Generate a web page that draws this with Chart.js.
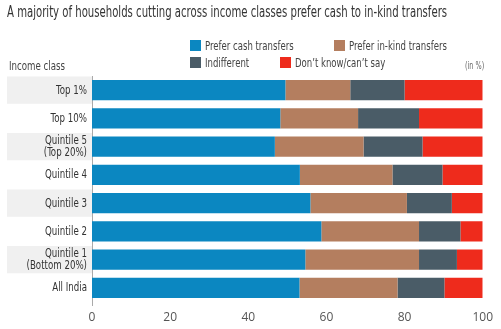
<!DOCTYPE html>
<html>
<head>
<meta charset="utf-8">
<script src="https://cdn.jsdelivr.net/npm/chart.js@4.4.1/dist/chart.umd.min.js"></script>
<style>
  html, body { margin: 0; padding: 0; background: #fff; }
  #wrap { position: relative; width: 501px; height: 329px; overflow: hidden;
    font-family: "DejaVu Sans Condensed", "Liberation Sans Narrow", sans-serif; color: #333; }
  #chart { position: absolute; left: 0; top: 0; }
  .txt { position: absolute; white-space: nowrap; transform-origin: 0 0; }
  #title { left: 7px; top: 3px; font-size: 15px; color: #333; }
  #yname { left: 9px; top: 58px; font-size: 13px; color: #444; transform: scaleX(0.74); }
  #unit { left: 465px; top: 60px; font-size: 10px; color: #666; transform: scaleX(0.72); }
  .leg { position: absolute; font-size: 13px; color: #444; line-height: 14px; white-space: nowrap; }
  .leg i { position: absolute; left: 0; top: 1px; width: 11px; height: 11px; }
  .leg span { position: absolute; left: 15px; top: 0; transform-origin: 0 0; transform: scaleX(0.73); }
</style>
</head>
<body>
<div id="wrap">
  <canvas id="chart" width="501" height="329"></canvas>
  <div class="txt" id="title">A majority of households cutting across income classes prefer cash to in-kind transfers</div>
  <div class="txt" id="yname">Income class</div>
  <div class="txt" id="unit">(in %)</div>
</div>
<script>
const categories = ['Top 1%', 'Top 10%', ['Quintile 5', '(Top 20%)'], 'Quintile 4', 'Quintile 3', 'Quintile 2', ['Quintile 1', '(Bottom 20%)'], 'All India']
const seriesNames = ['Prefer cash transfers', 'Prefer in-kind transfers', 'Indifferent', "Don\u2019t know/can\u2019t say"]
const cashValues = [49.5, 48.2, 46.8, 53.2, 55.9, 58.7, 54.6, 53.1]
const inKindValues = [16.6, 19.9, 22.7, 23.7, 24.7, 25.0, 29.1, 25.1]
const indifferentValues = [13.9, 15.6, 15.1, 12.8, 11.5, 10.6, 9.7, 12.0]
const dontKnowValues = [20.0, 16.3, 15.4, 10.3, 7.9, 5.7, 6.6, 9.8]
const xTicks = [0, 20, 40, 60, 80, 100]

const colors = ['#0b87c1', '#b47e5f', '#4a5c67', '#ee2b1c']
const legendSpots = [[190, 39], [334, 39], [190, 56], [280, 56]]
const condense = 0.74
const labelFont = '13px "DejaVu Sans Condensed", "Liberation Sans Narrow", sans-serif'

// squeeze the title to the width it has in the original
let title = document.getElementById('title')
title.style.transform = 'scaleX(' + (440 / title.offsetWidth) + ')'

// legend, laid out like the original (two rows, uneven columns)
let wrap = document.getElementById('wrap')
seriesNames.forEach((name, i) => {
    let el = document.createElement('div')
    el.className = 'leg'
    el.style.left = legendSpots[i][0] + 'px'
    el.style.top = legendSpots[i][1] + 'px'
    el.innerHTML = '<i style="background:' + colors[i] + '"></i><span>' + name + '</span>'
    wrap.appendChild(el)
})

// grey bands behind every other category label, and the condensed labels themselves
const labelPlugin = {
    id: 'labels',
    beforeDraw(chart) {
        const { ctx, chartArea, scales } = chart
        const y = scales.y
        const step = y.getPixelForValue(1) - y.getPixelForValue(0)
        ctx.save()
        ctx.fillStyle = '#f0f0f0'
        for (let i = 0; i < categories.length; i += 2) {
            const c = y.getPixelForValue(i)
            ctx.fillRect(7, c - step / 2 + 0.5, chartArea.left - 7, step - 1)
        }
        ctx.restore()
    },
    afterDraw(chart) {
        const { ctx, chartArea, scales } = chart
        const y = scales.y
        const right = chartArea.left - 5
        ctx.save()
        // axis line runs a little past the last bar, as in the original
        ctx.strokeStyle = '#aaa'
        ctx.lineWidth = 1
        ctx.beginPath()
        ctx.moveTo(chartArea.left + 0.5, chartArea.bottom)
        ctx.lineTo(chartArea.left + 0.5, chartArea.bottom + 4)
        ctx.stroke()

        ctx.font = labelFont
        ctx.fillStyle = '#333'
        ctx.textAlign = 'right'
        ctx.textBaseline = 'middle'
        categories.forEach((cat, i) => {
            const lines = Array.isArray(cat) ? cat : [cat]
            const c = y.getPixelForValue(i)
            lines.forEach((line, j) => {
                const ly = c + (j - (lines.length - 1) / 2) * 12.5
                ctx.save()
                ctx.translate(right, ly)
                ctx.scale(condense, 1)
                ctx.fillText(line, 0, 0)
                ctx.restore()
            })
        })
        ctx.restore()
    }
}

const data = {
    labels: categories,
    datasets: [cashValues, inKindValues, indifferentValues, dontKnowValues].map((vals, i) => ({
        label: seriesNames[i],
        data: vals,
        backgroundColor: colors[i],
        borderWidth: 0,
        categoryPercentage: 1,
        barPercentage: 0.72
    }))
}

new Chart(document.getElementById('chart'), {
    type: 'bar',
    data: data,
    plugins: [labelPlugin],
    options: {
        indexAxis: 'y',
        responsive: false,
        animation: false,
        layout: { padding: { top: 76, left: 7, right: 17, bottom: 0 } },
        plugins: {
            legend: { display: false },
            title: { display: false },
            tooltip: { enabled: false }
        },
        scales: {
            x: {
                stacked: true,
                min: 0,
                max: 100,
                afterBuildTicks: (scale) => { scale.ticks = xTicks.map(v => ({ value: v })) },
                afterFit: (scale) => { scale.height = 27 },
                grid: { display: false, drawTicks: false },
                border: { display: false },
                ticks: {
                    padding: 8,
                    color: '#555',
                    font: { family: '"Open Sans", sans-serif', size: 12 }
                }
            },
            y: {
                stacked: true,
                afterFit: (scale) => { scale.width = 85 },
                grid: { display: false, drawTicks: false },
                border: { display: true, color: '#aaa', width: 1 },
                ticks: { display: false, autoSkip: false }
            }
        }
    }
})
</script>
</body>
</html>
